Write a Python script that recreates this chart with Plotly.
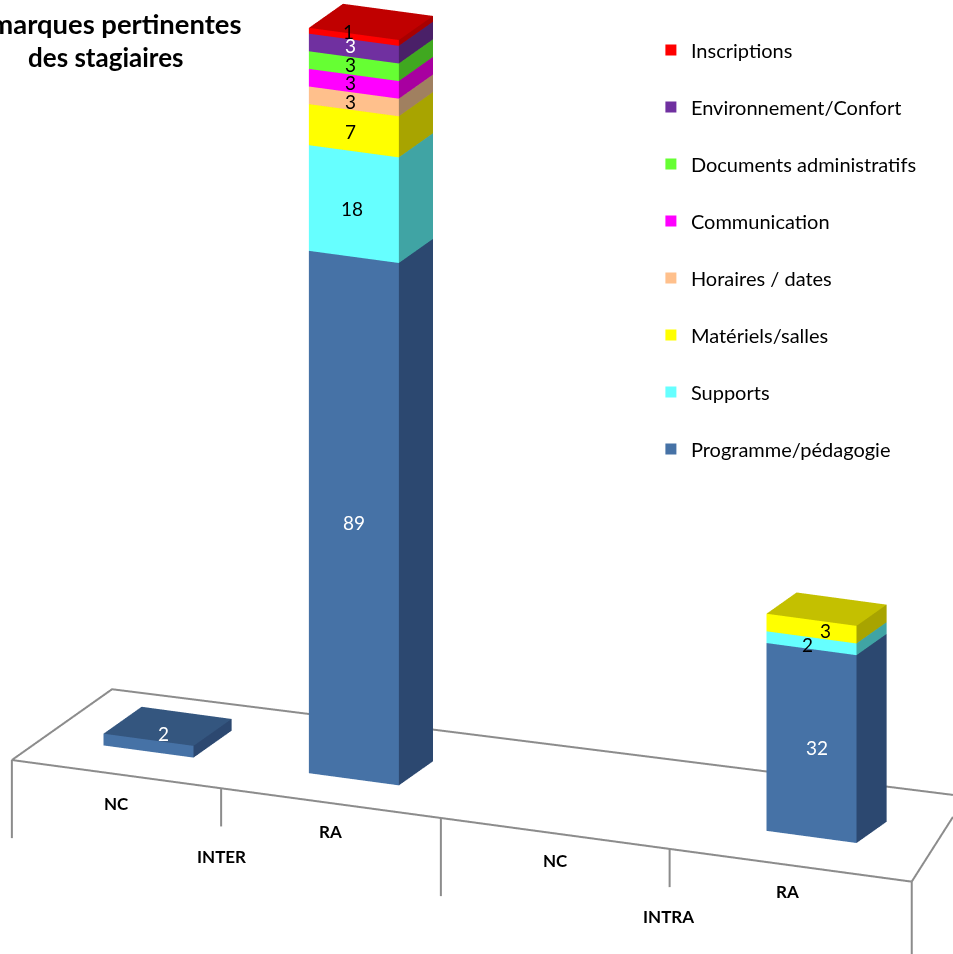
import plotly.graph_objects as go

groups = ["INTER", "INTRA"]
categories = ["NC", "RA", "NC", "RA"]
series_names = ["Programme/pédagogie", "Supports", "Matériels/salles", "Horaires / dates",
                "Communication", "Documents administratifs", "Environnement/Confort", "Inscriptions"]
programme = [2, 89, 0, 32]
supports = [0, 18, 0, 2]
materiels = [0, 7, 0, 3]
horaires = [0, 3, 0, 0]
communication = [0, 3, 0, 0]
documents = [0, 3, 0, 0]
environnement = [0, 3, 0, 0]
inscriptions = [0, 1, 0, 0]
values = [programme, supports, materiels, horaires, communication, documents, environnement, inscriptions]
front_colors = ["#4672A6", "#66FFFF", "#FFFF00", "#FFC08C", "#FF00FF", "#66FF33", "#7030A0", "#FF0000"]
side_colors = ["#2C4870", "#40A4A4", "#A8A400", "#A08060", "#A800A0", "#40A820", "#4A2068", "#A80000"]
top_colors = ["#34567F", "#50CCCC", "#C4C000", "#C8A070", "#C800C0", "#50CC28", "#5A2880", "#C00000"]
label_colors = ["white", "black", "black", "black", "black", "black", "white", "black"]

slot_x = [0.465, 1.378, 2.5, 3.39]
slot_y0 = [0.32, 0.32, 0.32, 0.37]
slot_depth = [0.38, 0.34, 0.34, 0.30]
BAR_W = 0.40
ZMIN, ZMAX = -14, 130
# pixel nudges of value labels: (series, slot) -> (right, down)
label_shift = {(0, 0): (15, -12), (0, 1): (0, 4), (1, 1): (-2, 4), (0, 3): (5, 4),
               (1, 3): (-4, 1), (2, 3): (14, 2), (2, 1): (-3, 1), (6, 1): (-3, -3),
               (5, 1): (-3, -2), (4, 1): (-3, -1), (3, 1): (-3, 0), (7, 1): (-5, -5)}

fig = go.Figure()
bottoms = [0, 0, 0, 0]
ann = []
for s, vals in enumerate(values):
    X, Y, Z, I, J, K, FC = [], [], [], [], [], [], []
    for c, v in enumerate(vals):
        if v == 0:
            continue
        b = bottoms[c]
        t = b + v
        x0, x1 = slot_x[c] - BAR_W / 2, slot_x[c] + BAR_W / 2
        y0, y1 = slot_y0[c], slot_y0[c] + slot_depth[c]
        n = len(X)
        X += [x0, x1, x1, x0, x0, x1, x1, x0]
        Y += [y0, y0, y1, y1, y0, y0, y1, y1]
        Z += [b, b, b, b, t, t, t, t]
        faces = [((0, 1, 5), front_colors[s]), ((0, 5, 4), front_colors[s]),
                 ((1, 2, 6), side_colors[s]), ((1, 6, 5), side_colors[s]),
                 ((4, 5, 6), top_colors[s]), ((4, 6, 7), top_colors[s])]
        for (a, d, e), col in faces:
            I.append(n + a); J.append(n + d); K.append(n + e); FC.append(col)
        bottoms[c] = t
        dx, dy = label_shift.get((s, c), (0, 0))
        ann.append(dict(x=slot_x[c], y=y0, z=b + v / 2, text=str(v), showarrow=False,
                        xshift=dx, yshift=-dy,
                        font=dict(family="Lato", size=19, color=label_colors[s])))
    if X:
        fig.add_trace(go.Mesh3d(x=X, y=Y, z=Z, i=I, j=J, k=K, facecolor=FC, flatshading=True,
                                lighting=dict(ambient=1, diffuse=0, specular=0, roughness=1, fresnel=0),
                                hoverinfo="skip", showscale=False))

line = dict(color="#8C8C8C", width=4)
fig.add_trace(go.Scatter3d(x=[3.812, 4, 0, 0, 3.696], y=[0.834, 0, 0, 1, 1.095], z=[0, 0, 0, 0, 0],
                           mode="lines", line=line, hoverinfo="skip"))
for x, depth in [(0, -13.3), (0.93, -6.5), (1.907, -13.3), (2.924, -6.5), (4, -13.3)]:
    fig.add_trace(go.Scatter3d(x=[x, x], y=[0, 0], z=[0, depth], mode="lines", line=line, hoverinfo="skip"))

bold = dict(family="Lato", size=17, color="black")
cat_pos = [(0.467, -5.0), (1.417, -4.8), (2.418, -4.6), (3.45, -4.6)]
for name, (x, z) in zip(categories, cat_pos):
    ann.append(dict(x=x, y=0, z=z, text=f"<b>{name}</b>", showarrow=False, font=bold))
for g, x, z in zip(groups, [0.93, 2.92], [-11.7, -11.6]):
    ann.append(dict(x=x, y=0, z=z, text=f"<b>{g}</b>", showarrow=False, font=bold))

for s in reversed(range(len(series_names))):
    name = series_names[s]
    fig.add_trace(go.Scatter(x=[None], y=[None], mode="markers", name=name, legendgroup=name,
                             marker=dict(symbol="square", size=11, color=front_colors[s])))
for t in fig.data:
    if t.type != "scatter":
        t.showlegend = False

R = 3.0
d = (0.381, -0.871, 0.309)
cen = (-0.0597, -0.101, -0.0637)
fig.update_layout(
    width=953, height=954, margin=dict(l=0, r=0, t=0, b=0), showlegend=True,
    paper_bgcolor="white", plot_bgcolor="rgba(0,0,0,0)",
    xaxis=dict(visible=False), yaxis=dict(visible=False),
    legend=dict(x=0.683, y=0.968, xanchor="left", yanchor="top", traceorder="grouped",
                tracegroupgap=28, font=dict(family="Lato", size=20, color="black"), bgcolor="rgba(0,0,0,0)"),
    scene=dict(
        domain=dict(x=[0, 1], y=[0, 1]),
        xaxis=dict(range=[0, 4], visible=False),
        yaxis=dict(range=[0, 1.2], visible=False),
        zaxis=dict(range=[ZMIN, ZMAX], visible=False),
        aspectmode="manual", aspectratio=dict(x=2.059, y=0.6288, z=1.863),
        camera=dict(projection=dict(type="orthographic"),
                    up=dict(x=0, y=0, z=1),
                    center=dict(x=cen[0], y=cen[1], z=cen[2]),
                    eye=dict(x=cen[0] + R * d[0], y=cen[1] + R * d[1], z=cen[2] + R * d[2])),
        annotations=ann,
    ),
)
fig.layout.annotations = [
    dict(x=243 / 953, y=1 - 24 / 954, xref="paper", yref="paper", xanchor="right", yanchor="middle",
         text="<b>Remarques pertinentes</b>", showarrow=False, font=dict(family="Lato", size=27.4, color="black")),
    dict(x=105 / 953, y=1 - 57 / 954, xref="paper", yref="paper", xanchor="center", yanchor="middle",
         text="<b>des stagiaires</b>", showarrow=False, font=dict(family="Lato", size=26, color="black")),
]
fig.write_html("out.html", config=dict(displayModeBar=False), post_script="document.body.style.margin='0';")
